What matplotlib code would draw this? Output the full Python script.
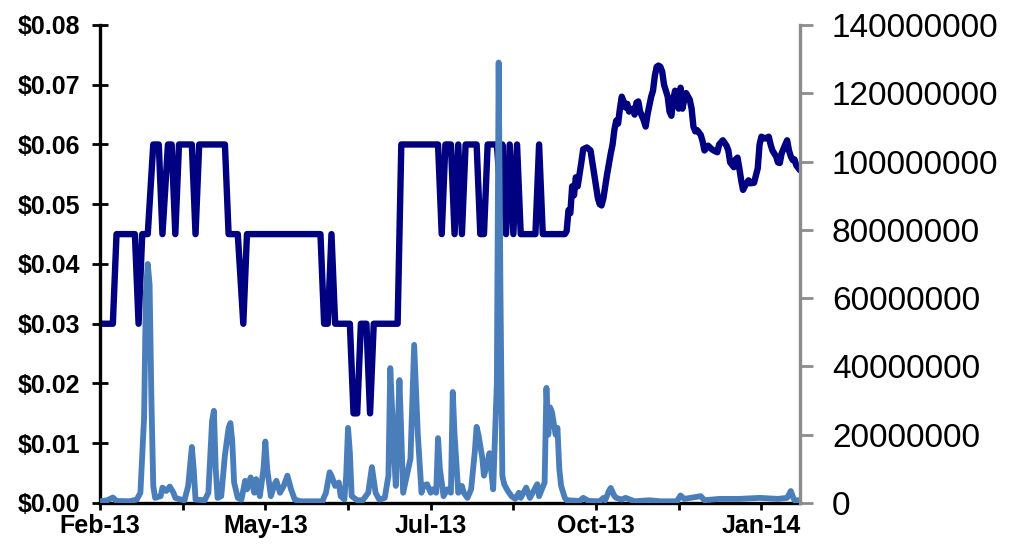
import matplotlib
matplotlib.use("Agg")
import matplotlib.pyplot as plt
import pandas as pd

# day 0 is 1 Feb 2013
START = pd.Timestamp("2013-02-01")

price_days = [
    0, 7, 9, 19, 21, 23, 26, 29, 32, 34, 37, 39, 41, 43, 50, 52, 54, 68, 70,
    75, 78, 80, 120, 122, 124, 126, 128, 136, 138, 140, 142, 145, 147, 149,
    162, 164, 184, 186, 188, 191, 193, 195, 197, 199, 205, 207, 209, 211, 216,
    218, 219, 221, 223, 225, 227, 229, 237, 239, 241, 253,
    254, 255, 256, 257, 258, 259, 260, 262, 263, 265, 267, 268, 269, 270, 271,
    272, 273, 274, 275, 276, 278, 279, 280, 281, 282, 283, 284, 285, 286, 287,
    288, 290, 291, 292, 293, 294, 296, 297, 298, 299, 300, 301, 302, 303, 304,
    305, 306, 307, 309, 310, 311, 312, 313, 314, 315, 316, 317, 318, 319, 321,
    322, 323, 324, 325, 327, 328, 329, 331, 333, 334, 336, 337, 339, 341, 342,
    343, 345, 346, 347, 348, 349, 350, 351, 353, 354, 356, 358, 359, 360, 362,
    364, 365, 366, 368, 369, 370, 371, 373, 374, 375, 376, 377, 378, 379, 381,
]
price_vals = [
    0.030, 0.030, 0.045, 0.045, 0.030, 0.045, 0.045, 0.060, 0.060, 0.045,
    0.060, 0.060, 0.045, 0.060, 0.060, 0.045, 0.060, 0.060, 0.045, 0.045,
    0.030, 0.045, 0.045, 0.030, 0.030, 0.045, 0.030, 0.030, 0.015, 0.015,
    0.030, 0.030, 0.015, 0.030, 0.030, 0.060, 0.060, 0.045, 0.060, 0.060,
    0.045, 0.060, 0.045, 0.060, 0.060, 0.045, 0.045, 0.060, 0.060, 0.052,
    0.060, 0.045, 0.060, 0.045, 0.060, 0.045, 0.045, 0.060, 0.045, 0.045,
    0.0455, 0.0490, 0.0485, 0.0530, 0.0515, 0.0545, 0.0530, 0.0570, 0.0592,
    0.0595, 0.0590, 0.0570, 0.0550, 0.0530, 0.0510, 0.0500, 0.0498, 0.0510,
    0.0530, 0.0550, 0.0585, 0.0600, 0.0625, 0.0640, 0.0635, 0.0660, 0.0680,
    0.0672, 0.0662, 0.0668, 0.0655, 0.0660, 0.0650, 0.0670, 0.0672, 0.0655,
    0.0640, 0.0630, 0.0650, 0.0665, 0.0680, 0.0690, 0.0715, 0.0730, 0.0732,
    0.0730, 0.0722, 0.0700, 0.0680, 0.0655, 0.0648, 0.0675, 0.0690, 0.0680,
    0.0660, 0.0695, 0.0660, 0.0675, 0.0686, 0.0675, 0.0660, 0.0630, 0.0622,
    0.0624, 0.0616, 0.0605, 0.0590, 0.0598, 0.0592, 0.0590, 0.0587, 0.0600,
    0.0607, 0.0598, 0.0590, 0.0570, 0.0562, 0.0575, 0.0578, 0.0560, 0.0540,
    0.0524, 0.0530, 0.0540, 0.0535, 0.0536, 0.0560, 0.0600, 0.0613, 0.0610,
    0.0613, 0.0600, 0.0590, 0.0580, 0.0570, 0.0569, 0.0585, 0.0600, 0.0607,
    0.0590, 0.0580, 0.0574, 0.0575, 0.0565, 0.0557,
]

# shares traded, in millions
volume_days = [
    0, 4, 7, 9, 16, 20, 22, 24, 25, 26, 27, 28, 29, 30, 33, 34, 36, 38, 40,
    41, 44, 46, 48, 50, 51, 52, 57, 59, 61, 62, 63, 64, 66, 68, 70, 71, 72, 73,
    75, 77, 79, 80, 82, 84, 85, 87, 89, 90, 91, 93, 95, 96, 98, 100, 102, 104,
    106, 109, 121, 123, 125, 126, 128, 130, 131, 133, 134, 135, 136, 137, 140,
    143, 146, 148, 150, 152, 155, 157, 158, 160, 161, 163, 164, 165, 167, 169,
    170, 171, 173, 175, 176, 178, 180, 181, 183, 184, 185, 187, 189, 191, 192,
    193, 195, 197, 198, 200, 202, 204, 205, 206, 208, 209, 211, 212, 214, 216,
    217, 218, 219, 220, 222, 224, 226, 228, 229, 231, 232, 234, 236, 238, 239,
    242, 243, 244, 245, 246, 248, 249, 250, 251, 253, 254, 261, 263, 266, 272,
    274, 275, 277, 278, 280, 281, 284, 286, 291, 299, 305, 314, 316, 318, 327,
    329, 337, 348, 359, 369, 374, 376, 377, 378, 381,
]
volume_mln = [
    0.5, 0.8, 1.6, 0.6, 0.5, 1.0, 3.0, 25, 62, 70, 64, 30, 5, 1.5, 2.0, 4.5,
    3.5, 4.8, 3.0, 1.5, 1.0, 0.8, 5.0, 16.4, 10, 1.0, 0.8, 3, 24, 27, 10, 1.5,
    2, 14, 22, 23.4, 18, 6, 1.5, 1.0, 6.5, 4, 7.5, 3, 7, 2, 10, 18, 10, 2,
    5.5, 6.5, 3, 5, 8, 4, 1, 0.5, 0.5, 3, 9, 8, 5, 6, 2, 1.0, 8, 22, 15, 2,
    0.8, 0.8, 3, 10.5, 3, 1, 1.5, 8, 39.5, 15, 5, 36, 20, 3, 8, 13, 30, 46.3,
    20, 3, 5, 5.5, 3, 4, 3, 19, 10, 2, 4, 3, 32.5, 20, 3, 5, 3, 1.5, 4, 15,
    22.3, 20, 13.5, 8, 12, 14.6, 4, 35, 129, 60, 8, 5.5, 3.5, 2, 1.2, 3, 1.5,
    3.5, 4.5, 1.5, 3.5, 5.5, 2, 6, 33.7, 20, 28, 26.6, 20, 22, 10, 5, 1.5,
    0.8, 0.6, 1.5, 0.6, 0.5, 1.5, 0.8, 3.5, 4.4, 2, 1.5, 1.0, 1.5, 0.5, 0.8,
    0.5, 0.5, 2.2, 1.2, 2.0, 0.8, 1.2, 1.2, 1.5, 1.2, 1.5, 3.5, 2.0, 0.8, 0.8,
]

price_ticks = [0.00, 0.01, 0.02, 0.03, 0.04, 0.05, 0.06, 0.07, 0.08]
volume_ticks = [0, 20000000, 40000000, 60000000, 80000000, 100000000,
                120000000, 140000000]
date_ticks = [0, 45, 90, 135, 180, 225, 270, 315, 360]

plt.rcParams["font.family"] = ["Liberation Sans", "DejaVu Sans"]

fig = plt.figure(figsize=(10.12, 5.49), dpi=100)
ax = fig.add_axes([0.0988, 0.0838, 0.6917, 0.8707])
ax2 = ax.twinx()

ax.plot(price_days, price_vals, color="#000080", lw=4.6,
        solid_joinstyle="round", solid_capstyle="round")
ax2.plot(volume_days, [v * 1e6 for v in volume_mln], color="#4a7ebb", lw=4.2,
         solid_joinstyle="round", solid_capstyle="round")

ax.set_xlim(0, 381)
ax.set_ylim(0, 0.08)
ax2.set_ylim(0, 140000000)

# price axis on the left
ax.set_yticks(price_ticks, [f"${p:.2f}" for p in price_ticks],
              fontsize=18, fontweight="bold")
ax.tick_params(axis="y", direction="inout", length=11, width=2,
               color="black", pad=9)

# month labels on every other tick
labels = [(START + pd.Timedelta(days=d)).strftime("%b-%y") if i % 2 == 0 else ""
          for i, d in enumerate(date_ticks)]
ax.set_xticks(date_ticks, labels, fontsize=18, fontweight="bold")
ax.tick_params(axis="x", direction="out", length=5, width=2,
               color="black", pad=3)

# volume axis on the right
ax2.set_yticks(volume_ticks, [str(v) for v in volume_ticks], fontsize=24)
ax2.tick_params(axis="y", direction="out", length=9, width=2,
                color="#8c8c8c", labelcolor="black", pad=14)

for side in ["top", "right"]:
    ax.spines[side].set_visible(False)
for side in ["top", "left", "bottom"]:
    ax2.spines[side].set_visible(False)
ax.spines["left"].set_linewidth(2.4)
ax.spines["bottom"].set_linewidth(2.4)
ax2.spines["right"].set_linewidth(2.4)
ax2.spines["right"].set_color("#8c8c8c")

fig.savefig("out.png", dpi=100)
plt.close(fig)
